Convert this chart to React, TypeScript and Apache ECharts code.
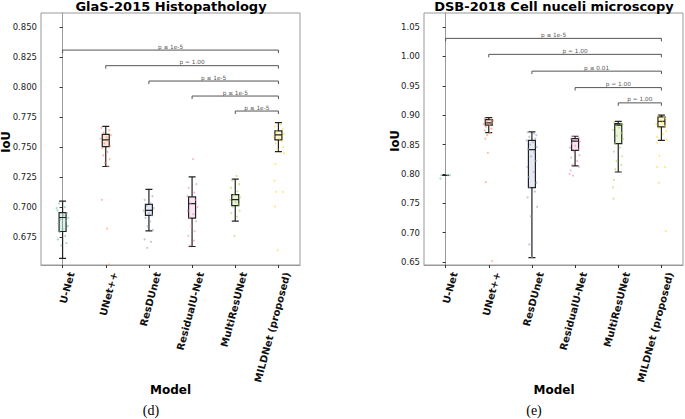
import React, { useEffect, useRef } from 'react';
import * as echarts from 'echarts';

const categories = ['U-Net', 'UNet++', 'ResDUnet', 'ResidualU-Net', 'MultiResUNet', 'MILDNet (proposed)'];
const palette = ['#66c2a5', '#fc8d62', '#8da0cb', '#e78ac3', '#a6d854', '#ffd92f'];

// [min, Q1, median, Q3, max]
const glasBoxes = [
  [0.6573, 0.6796, 0.6913, 0.6953, 0.7050],
  [0.7338, 0.7503, 0.7559, 0.7606, 0.7673],
  [0.6802, 0.6930, 0.6972, 0.7022, 0.7148],
  [0.6671, 0.6908, 0.7028, 0.7084, 0.7251],
  [0.6883, 0.7011, 0.7061, 0.7103, 0.7232],
  [0.7461, 0.7559, 0.7601, 0.7634, 0.7704],
];
const dsbBoxes = [
  [0.7977, 0.7977, 0.7977, 0.7977, 0.7977],
  [0.8705, 0.8830, 0.8870, 0.8925, 0.8960],
  [0.6574, 0.7767, 0.8415, 0.8573, 0.8715],
  [0.8136, 0.8403, 0.8560, 0.8600, 0.8642],
  [0.8033, 0.8517, 0.8830, 0.8858, 0.8895],
  [0.8573, 0.8800, 0.8895, 0.8970, 0.9000],
];

// strip points: [jitter offset (category units), IoU]
const glasPoints = [
  [[-0.08, 0.703], [0.05, 0.700], [-0.12, 0.697], [0.1, 0.695], [0.02, 0.693], [-0.05, 0.690], [0.08, 0.688], [-0.1, 0.686], [0.12, 0.684], [0.0, 0.682], [-0.07, 0.679], [0.06, 0.676], [-0.11, 0.673], [0.09, 0.670], [-0.03, 0.668], [0.13, 0.691], [-0.14, 0.699]],
  [[-0.1, 0.766], [0.08, 0.764], [-0.05, 0.762], [0.12, 0.760], [0.02, 0.758], [-0.12, 0.757], [0.06, 0.755], [-0.03, 0.753], [0.1, 0.751], [-0.08, 0.749], [0.04, 0.746], [-0.06, 0.743], [0.09, 0.740], [-0.02, 0.737], [0.05, 0.734], [-0.09, 0.706], [0.03, 0.682], [0.07, 0.652]],
  [[0.08, 0.709], [-0.1, 0.706], [0.04, 0.703], [-0.05, 0.701], [0.11, 0.699], [-0.12, 0.697], [0.0, 0.695], [0.07, 0.693], [-0.08, 0.691], [0.03, 0.688], [-0.03, 0.684], [0.09, 0.681], [-0.1, 0.673], [0.05, 0.671], [-0.04, 0.666]],
  [[0.02, 0.740], [0.1, 0.719], [-0.08, 0.716], [0.05, 0.712], [-0.11, 0.709], [0.08, 0.706], [-0.04, 0.703], [0.12, 0.700], [-0.1, 0.697], [0.03, 0.694], [-0.06, 0.691], [0.09, 0.688], [-0.02, 0.684], [0.06, 0.680], [-0.09, 0.676], [0.04, 0.672], [-0.05, 0.668]],
  [[0.03, 0.726], [-0.07, 0.722], [0.09, 0.719], [-0.1, 0.716], [0.05, 0.713], [-0.03, 0.710], [0.11, 0.708], [-0.12, 0.706], [0.01, 0.704], [0.07, 0.702], [-0.06, 0.700], [0.1, 0.697], [-0.09, 0.695], [0.04, 0.692], [-0.02, 0.676]],
  [[0.05, 0.769], [-0.08, 0.767], [0.1, 0.765], [-0.04, 0.763], [0.12, 0.761], [-0.11, 0.759], [0.02, 0.757], [0.08, 0.755], [-0.06, 0.753], [0.11, 0.750], [-0.02, 0.748], [0.13, 0.745], [-0.07, 0.736], [-0.09, 0.722], [-0.05, 0.7126], [0.1, 0.7126], [-0.08, 0.7005], [-0.02, 0.664]],
];
const dsbPoints = [
  [[-0.1, 0.798], [0.05, 0.798], [0.1, 0.7978], [-0.12, 0.792]],
  [[-0.1, 0.895], [0.05, 0.893], [0.1, 0.891], [-0.05, 0.889], [0.08, 0.887], [-0.12, 0.885], [0.02, 0.883], [-0.07, 0.880], [0.06, 0.877], [-0.09, 0.874], [0.03, 0.870], [-0.04, 0.866], [-0.08, 0.860], [-0.02, 0.836], [-0.07, 0.786], [0.08, 0.6516]],
  [[-0.1, 0.871], [0.05, 0.869], [0.1, 0.866], [-0.06, 0.863], [0.08, 0.860], [-0.12, 0.857], [0.02, 0.854], [-0.04, 0.850], [0.11, 0.846], [-0.09, 0.842], [0.06, 0.837], [-0.02, 0.830], [0.09, 0.822], [-0.11, 0.812], [0.04, 0.803], [-0.07, 0.795], [0.1, 0.785], [-0.05, 0.777], [0.07, 0.770], [-0.1, 0.760], [0.12, 0.744], [-0.03, 0.728], [-0.06, 0.680], [0.0, 0.658]],
  [[-0.05, 0.864], [0.08, 0.862], [-0.1, 0.860], [0.04, 0.858], [0.11, 0.855], [-0.08, 0.852], [0.0, 0.848], [-0.12, 0.845], [0.07, 0.842], [-0.03, 0.838], [0.1, 0.832], [-0.09, 0.828], [0.05, 0.822], [-0.06, 0.816], [0.09, 0.812], [-0.1, 0.806], [-0.13, 0.800], [-0.05, 0.797]],
  [[-0.1, 0.888], [0.06, 0.886], [0.1, 0.884], [-0.05, 0.882], [0.02, 0.879], [-0.12, 0.875], [0.08, 0.870], [-0.03, 0.865], [0.11, 0.860], [-0.08, 0.852], [0.04, 0.845], [-0.1, 0.838], [0.09, 0.830], [-0.04, 0.822], [0.07, 0.815], [-0.07, 0.808], [-0.1, 0.790], [-0.12, 0.777], [-0.11, 0.758]],
  [[-0.08, 0.899], [0.06, 0.897], [0.1, 0.894], [-0.04, 0.891], [0.02, 0.888], [-0.12, 0.885], [0.08, 0.882], [-0.06, 0.878], [0.11, 0.873], [0.03, 0.868], [-0.1, 0.863], [0.12, 0.858], [-0.1, 0.853], [-0.05, 0.831], [-0.1, 0.812], [0.08, 0.812], [-0.06, 0.785], [0.1, 0.703]],
];

const glasTicks = [0.675, 0.7, 0.725, 0.75, 0.775, 0.8, 0.825, 0.85];
const dsbTicks = [0.65, 0.7, 0.75, 0.8, 0.85, 0.9, 0.95, 1.0, 1.05];

// significance brackets: from category index to MILDNet (index 5)
const bracketFrom = [0, 1, 2, 3, 4];
const bracketTo = 5;
const glasBracketY = [0.8308, 0.8178, 0.8050, 0.7925, 0.7800];
const glasPText = ['p ≤ 1e-5', 'p = 1.00', 'p ≤ 1e-5', 'p ≤ 1e-5', 'p ≤ 1e-5'];
const dsbBracketY = [1.0308, 1.0036, 0.9750, 0.9470, 0.9210];
const dsbPText = ['p ≤ 1e-5', 'p = 1.00', 'p ≤ 0.01', 'p = 1.00', 'p = 1.00'];

const FONT = "'DejaVu Sans', sans-serif";

function buildSeries(gi: number, boxes: number[][], points: number[][][], brY: number[], brText: string[], drop: number) {
  const series: any[] = [];
  series.push({
    type: 'boxplot',
    xAxisIndex: gi,
    yAxisIndex: gi,
    boxWidth: [7, 7],
    z: 2,
    data: boxes.map((b, i) => ({
      value: b,
      itemStyle: { color: palette[i] + '38', borderColor: '#222', borderWidth: 1.2 },
    })),
  });
  series.push({
    type: 'scatter',
    xAxisIndex: gi + 2,
    yAxisIndex: gi,
    symbolSize: 2,
    z: 3,
    silent: true,
    data: points.flatMap((arr, i) =>
      arr.map(([o, v]) => ({ value: [i + o, v], itemStyle: { color: palette[i], opacity: 0.6 } }))
    ),
  });
  brY.forEach((y, k) => {
    const f = bracketFrom[k];
    series.push({
      type: 'line',
      xAxisIndex: gi + 2,
      yAxisIndex: gi,
      symbol: 'none',
      silent: true,
      z: 4,
      lineStyle: { color: '#555', width: 1 },
      data: [[f, y - drop], [f, y], [bracketTo, y], [bracketTo, y - drop]],
    });
  });
  series.push({
    type: 'scatter',
    xAxisIndex: gi + 2,
    yAxisIndex: gi,
    symbolSize: 0,
    silent: true,
    z: 5,
    itemStyle: { color: '#222' },
    data: brY.map((y, k) => ({
      value: [(bracketFrom[k] + bracketTo) / 2, y],
      label: {
        show: true,
        position: 'top',
        distance: 0.5,
        formatter: brText[k],
        fontSize: 5.8,
        color: '#222',
        fontFamily: FONT,
      },
    })),
  });
  return series;
}

function catAxis(gi: number) {
  return {
    type: 'category',
    gridIndex: gi,
    data: categories,
    axisLine: { show: true, lineStyle: { color: '#999', width: 1 } },
    axisTick: { show: true, alignWithLabel: true, length: 3, lineStyle: { color: '#333' } },
    axisLabel: {
      interval: 0,
      rotate: 75,
      margin: 5,
      fontSize: 10,
      fontWeight: 'bold',
      fontFamily: FONT,
      color: '#111',
      verticalAlign: 'top',
      lineHeight: 18,
    },
    splitLine: { show: false },
  };
}

function valAxisX(gi: number) {
  return { type: 'value', gridIndex: gi, min: -0.5, max: 5.5, show: false };
}

function yAxis(gi: number, min: number, max: number, ticks: number[], digits: number) {
  return {
    type: 'value',
    gridIndex: gi,
    min,
    max,
    axisLine: { show: true, lineStyle: { color: '#999', width: 1 } },
    axisTick: { show: true, customValues: ticks, length: 3, lineStyle: { color: '#333' } },
    axisLabel: {
      customValues: ticks,
      formatter: (v: number) => v.toFixed(digits),
      fontSize: 8.5,
      fontFamily: FONT,
      color: '#222',
      margin: 4,
    },
    splitLine: { show: false },
  };
}

function txt(text: string, x: number, y: number, font: string, rotation = 0, align = 'center') {
  return {
    type: 'text',
    x,
    y,
    rotation,
    silent: true,
    style: { text, font, fill: '#000', textAlign: align, textVerticalAlign: 'middle', align, verticalAlign: 'middle' },
  };
}

export default function App() {
  const ref = useRef<HTMLDivElement>(null);
  useEffect(() => {
    if (!ref.current) return;
    const chart = echarts.init(ref.current, undefined, { renderer: 'svg' });
    chart.setOption({
      animation: false,
      backgroundColor: '#fff',
      textStyle: { fontFamily: FONT },
      grid: [
        { left: 41, top: 13, width: 259, height: 252, show: true, borderColor: '#999', borderWidth: 1, backgroundColor: 'transparent' },
        { left: 424, top: 13, width: 259, height: 252, show: true, borderColor: '#999', borderWidth: 1, backgroundColor: 'transparent' },
      ],
      xAxis: [catAxis(0), catAxis(1), valAxisX(0), valAxisX(1)],
      yAxis: [
        yAxis(0, 0.6517, 0.8617, glasTicks, 3),
        yAxis(1, 0.645, 1.074, dsbTicks, 2),
      ],
      series: [
        ...buildSeries(0, glasBoxes, glasPoints, glasBracketY, glasPText, 0.0025),
        ...buildSeries(1, dsbBoxes, dsbPoints, dsbBracketY, dsbPText, 0.005),
      ],
      graphic: [
        txt('GlaS-2015 Histopathology', 171, 6.5, `bold 13px ${FONT}`),
        txt('DSB-2018 Cell nuceli microscopy', 554, 6.5, `bold 13px ${FONT}`),
        txt('IoU', 6, 142, `bold 11.5px ${FONT}`, Math.PI / 2),
        txt('IoU', 395, 141, `bold 11.5px ${FONT}`, Math.PI / 2),
        txt('Model', 170.5, 390, `bold 12px ${FONT}`),
        txt('Model', 554, 390, `bold 12px ${FONT}`),
        txt('(d)', 151, 410, "14px 'Liberation Serif', serif"),
        txt('(e)', 534, 410, "14px 'Liberation Serif', serif"),
      ],
    });
    return () => chart.dispose();
  }, []);
  return <div ref={ref} style={{ position: 'absolute', left: 0, top: 0, width: 685, height: 419 }} />;
}
